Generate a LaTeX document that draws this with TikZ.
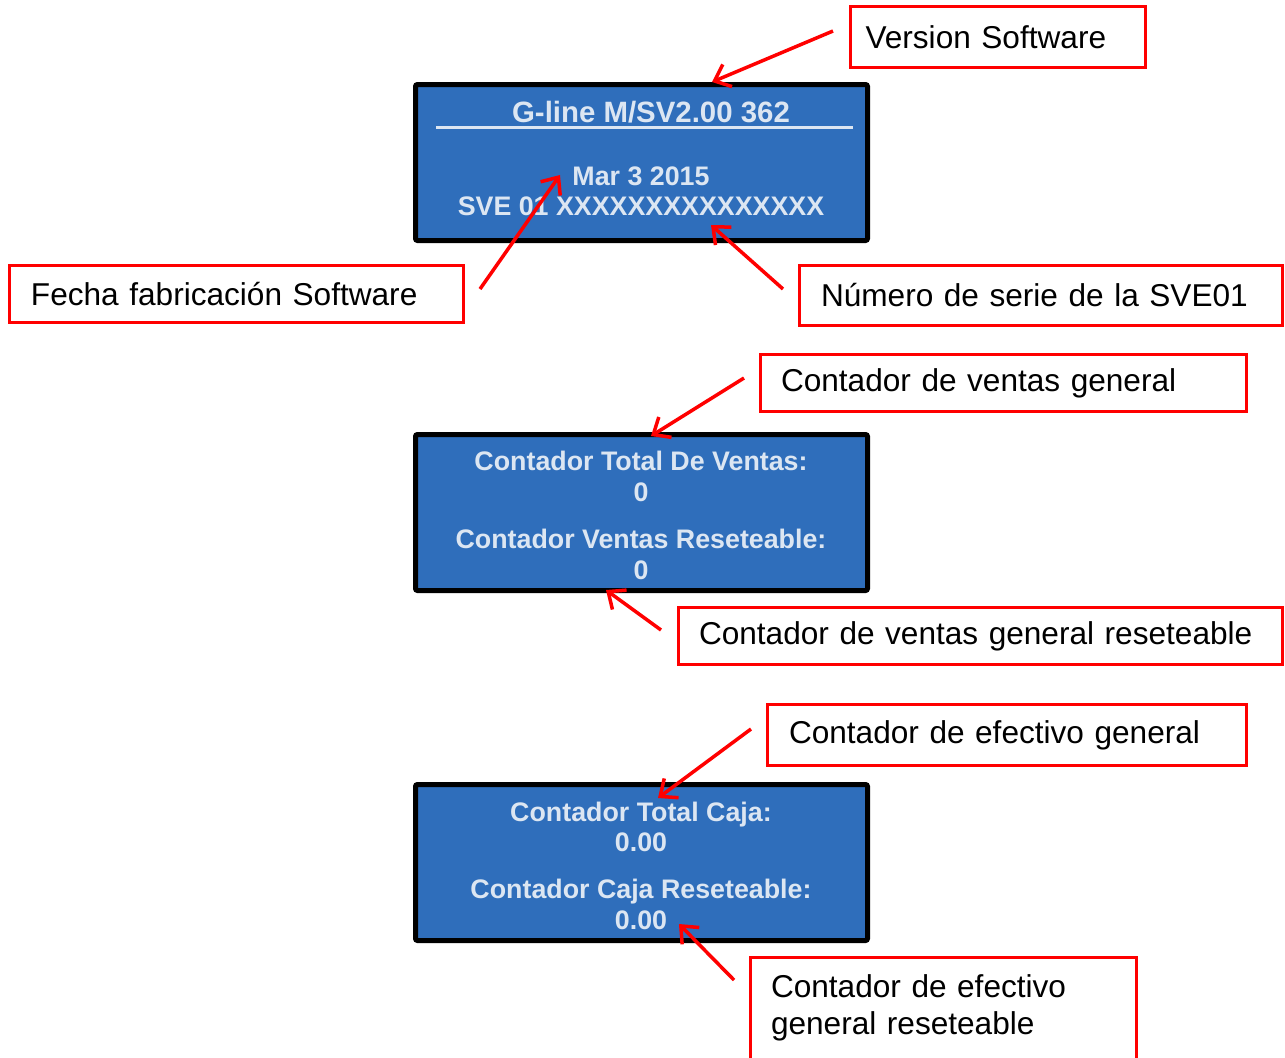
\documentclass[tikz,border=0pt]{standalone}
\usepackage{fontspec}
\setmainfont{Liberation Sans}
\usetikzlibrary{arrows.meta, positioning}
\definecolor{lcdblue}{RGB}{47,110,187}
\definecolor{lcdtext}{RGB}{220,230,242}

\begin{document}
\begin{tikzpicture}[x=0.5pt, y=-0.5pt, >={Straight Barb[length=7pt,width=12pt]}]
\tikzstyle{screen}=[draw=black, line width=2.5pt, fill=lcdblue, rounded corners=1pt, minimum width=226pt, minimum height=78pt, anchor=north west, inner sep=0pt]
\tikzstyle{scr}=[text=lcdtext, font=\bfseries\fontsize{13.4}{15}\selectfont, inner sep=0pt, anchor=base]
\tikzstyle{note}=[draw=red, line width=1.5pt, anchor=north west, align=left, inner ysep=0pt, font=\fontsize{15.8}{18.5}\selectfont]
\tikzstyle{pointer}=[->, draw=red, line width=1.75pt]

\useasboundingbox (0,0) rectangle (1285,1057);

% pantallas
\node[screen] (lcd1) at (413,82) {};
\node[screen] (lcd2) at (413,432) {};
\node[screen] (lcd3) at (413,782) {};

\node[scr, font=\bfseries\fontsize{14.7}{16}\selectfont] (ver) at (651,122.5) {G-line M/SV2.00 362};
\draw[lcdtext, line width=1.5pt] (436,127) -- (853,127);
\node[scr] (fecha) at (641,185.5) {Mar 3 2015};
\node[scr] (serie) at (641,215.5) {SVE 01 XXXXXXXXXXXXXXX};

\node[scr] (tv) at (641,470.5) {Contador Total De Ventas:};
\node[scr] (tv0) at (641,501.5) {0};
\node[scr] (rv) at (641,548.5) {Contador Ventas Reseteable:};
\node[scr] (rv0) at (641,579.5) {0};

\node[scr] (tc) at (641,821.5) {Contador Total Caja:};
\node[scr] (tc0) at (641,851.5) {0.00};
\node[scr] (rc) at (641,898.5) {Contador Caja Reseteable:};
\node[scr] (rc0) at (641,929.5) {0.00};

% etiquetas
\node[note, text width=132.5pt, inner xsep=7.5pt, minimum height=30.5pt] (n1) at (849,5) {Version Software};
\node[note, text width=205.5pt, inner xsep=10.75pt, minimum height=28.5pt] (n2) at (8,264) {Fecha fabricación Software};
\node[note, text width=220pt, inner xsep=10.75pt, minimum height=30pt] (n3) at (798,264) {Número de serie de la SVE01};
\node[note, text width=222.5pt, inner xsep=10.25pt, minimum height=28.5pt] (n4) at (759,353) {Contador de ventas general};
\node[note, text width=281.5pt, inner xsep=10.25pt, minimum height=28.5pt] (n5) at (677,606) {Contador de ventas general reseteable};
\node[note, text width=218pt, inner xsep=10.75pt, minimum height=30.5pt] (n6) at (766,703) {Contador de efectivo general};
\node[note, text width=172.5pt, inner xsep=10.25pt, minimum height=56pt] (n7) at (749,956) {Contador de efectivo\\general reseteable\\[-9.5pt]\mbox{}};

% flechas
\coordinate (a1) at (833,31);   \coordinate (b1) at (712,82);
\coordinate (a2) at (480,289);  \coordinate (b2) at (560,175);
\coordinate (a3) at (783,289);  \coordinate (b3) at (711,225);
\coordinate (a4) at (744,378);  \coordinate (b4) at (651,436);
\coordinate (a5) at (661,630);  \coordinate (b5) at (606,590);
\coordinate (a6) at (751,729);  \coordinate (b6) at (658,798);
\coordinate (a7) at (734,980);  \coordinate (b7) at (679,924);

\draw[pointer] (a1) -- (b1);
\draw[pointer] (a2) -- (b2);
\draw[pointer] (a3) -- (b3);
\draw[pointer] (a4) -- (b4);
\draw[pointer] (a5) -- (b5);
\draw[pointer] (a6) -- (b6);
\draw[pointer] (a7) -- (b7);
\end{tikzpicture}
\end{document}
